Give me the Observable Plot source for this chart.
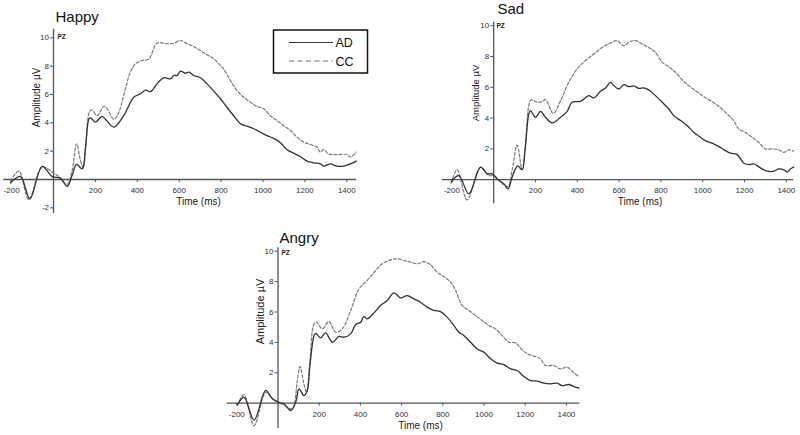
<!DOCTYPE html>
<html><head><meta charset="utf-8">
<script src="https://cdn.jsdelivr.net/npm/d3@7"></script>
<script src="https://cdn.jsdelivr.net/npm/@observablehq/plot@0.6"></script>
<style>
body{margin:0;background:#fff;}
#chart{position:relative;width:800px;height:435px;overflow:hidden;font-family:"Liberation Sans",Arial,sans-serif;}
#chart svg{position:absolute;left:0;top:0;}
</style></head><body><div id="chart"></div>
<script>
// ---------- data (time in ms, amplitude in µV) ----------
const seriesNames = ["AD", "CC"];
const xTickValues = [-200, 200, 400, 600, 800, 1000, 1200, 1400];
const yTicksHappy = [-2, 2, 4, 6, 8, 10];
const yTicksOther = [2, 4, 6, 8, 10];

const happyAD_t = [-205,-197,-157,-113,-54,-6,33,65,89,110,137,153,169,177,200,232,253,288,335,383,415,439,463,494,526,558,574,590,606,630,646,669,701,733,765,797,828,860,892,924,956,987,1019,1051,1083,1115,1146,1178,1210,1242,1274,1290,1321,1353,1385,1417,1445];
const happyAD_v = [-0.25,-0.12,0.21,-1.36,0.93,0.2,0.1,-0.49,0.3,1.06,0.75,2.3,4.28,4.35,4.05,4.45,4.16,3.7,4.5,5.8,6.05,6.3,6.2,6.75,7.18,7.1,7.34,7.34,7.65,7.5,7.58,7.34,7.18,6.75,6.24,5.7,5.1,4.5,3.93,3.76,3.58,3.34,3.1,2.9,2.6,2.1,1.86,1.62,1.3,1.18,1.1,0.94,1.1,0.94,0.94,1.1,1.3];
const happyCC_t = [-205,-165,-118,-54,1,33,65,89,110,129,142,155,173,185,208,240,256,288,312,335,367,391,423,455,494,542,574,606,638,669,701,733,765,797,812,844,876,908,940,972,1003,1035,1067,1099,1131,1162,1194,1226,1258,1274,1290,1313,1353,1401,1417,1445];
const happyCC_v = [-0.1,0.59,-1.41,0.87,0.45,0.12,-0.35,0.64,2.52,1.34,0.83,2.5,4.82,4.9,4.5,5.15,5.0,4.25,4.75,5.93,7.58,8.16,8.4,8.5,9.62,9.58,9.62,9.81,9.58,9.39,9.1,8.8,8.52,8.05,7.8,7.0,6.28,5.8,5.46,5.15,5.0,4.5,4.16,3.8,3.46,3.0,2.64,2.47,2.28,1.93,2.12,1.8,1.76,1.76,1.58,1.93];

const sadAD_t = [-203,-167,-119,-63,-31,-7,17,49,68,88,104,115,136,150,168,176,200,224,248,280,320,351,375,415,455,479,511,535,559,575,599,622,646,670,694,718,742,774,806,838,862,894,926,957,989,1013,1045,1077,1109,1133,1165,1197,1228,1244,1276,1308,1340,1364,1388,1404,1420,1436];
const sadAD_v = [-0.16,0.27,-0.92,0.81,0.38,0.38,0.05,-0.27,-0.6,0.16,0.7,0.9,0.65,1.9,4.27,4.49,4.05,4.44,4.05,3.69,4.05,4.42,5.03,5.09,5.46,5.31,5.74,5.96,6.32,6.11,5.89,6.17,6.04,6.09,5.93,5.96,5.83,5.46,5.03,4.59,4.16,3.84,3.51,3.08,2.76,2.54,2.37,2.15,1.89,1.72,1.63,1.07,0.98,1.03,0.77,0.55,0.55,0.7,0.64,0.49,0.7,0.81];
const sadCC_t = [-203,-175,-127,-63,-23,1,33,68,88,112,136,150,168,179,208,232,248,285,320,359,399,439,479,519,559,591,622,646,678,710,742,774,806,838,870,902,933,965,997,1029,1061,1093,1125,1148,1172,1204,1236,1268,1300,1332,1364,1388,1412,1436];
const sadCC_v = [-0.23,0.64,-1.31,0.81,0.27,0.27,-0.16,-0.44,0.6,2.25,0.65,2.0,4.81,5.18,5.03,5.07,5.2,4.31,5.14,6.32,7.19,7.73,8.16,8.59,8.88,9.03,8.7,8.92,9.03,8.81,8.59,8.27,7.62,7.34,6.97,6.48,6.11,5.78,5.46,5.2,4.92,4.59,4.16,3.84,3.3,3.08,2.76,2.43,2.0,2.0,1.94,1.78,1.94,1.85];

const angryAD_t = [-197,-165,-116,-60,-27,0,29,61,86,102,126,142,155,175,183,207,231,264,296,320,353,377,401,417,433,466,498,530,563,595,627,660,692,724,757,789,821,854,878,902,935,967,999,1032,1064,1096,1129,1161,1193,1226,1258,1290,1323,1355,1379,1412,1444,1460];
const angryAD_v = [-0.11,0.39,-1.12,0.84,0.29,0.07,-0.04,-0.48,0.07,0.94,0.5,0.83,2.5,4.45,4.6,4.3,4.63,4.01,4.39,4.34,4.56,5.18,5.33,5.7,5.55,5.94,6.43,6.75,7.26,6.93,7.08,6.86,6.64,6.32,6.1,6.03,5.66,5.11,4.67,4.45,4.01,3.57,3.36,2.92,2.63,2.54,2.26,2.15,1.75,1.49,1.45,1.32,1.27,1.32,1.16,1.23,1.05,1.0];
const angryCC_t = [-197,-165,-116,-60,-27,13,45,70,94,107,126,139,155,175,188,215,247,280,312,353,393,433,474,506,547,579,611,644,676,708,741,773,805,838,862,894,927,959,991,1024,1056,1088,1121,1153,1185,1218,1250,1274,1298,1339,1371,1404,1433,1460];
const angryCC_v = [-0.15,0.55,-1.47,0.72,0.29,0,-0.26,-0.37,1.49,2.41,1.27,0.72,2.8,5.22,5.33,4.89,5.37,4.67,4.89,6.1,7.52,8.07,8.73,9.17,9.43,9.5,9.39,9.28,9.17,9.32,9.1,8.62,8.33,7.96,7.41,6.43,6.1,5.77,5.44,5.11,4.89,4.45,4.01,3.97,3.51,3.2,3.07,2.92,2.48,2.48,2.26,2.37,2.04,1.75];

// ---------- drawing ----------
const FONT = "'Liberation Sans', Arial, sans-serif";
const AXIS = "#555";
const AD_COLOR = "#333";
const CC_COLOR = "#7a7a7a";
const zip = (T, V) => T.map((t, i) => ({t, v: V[i]}));

function panel(c) {
  const ad = zip(c.adT, c.adV), cc = zip(c.ccT, c.ccV);
  const tickLenY = 3 / c.ky, tickLenX = 3 / c.kx;
  return Plot.plot({
    width: 800, height: 435, margin: 0,
    x: {type: "linear", domain: c.xDom, range: [c.x0 + c.xDom[0] * c.kx, c.x0 + c.xDom[1] * c.kx], axis: null},
    y: {type: "linear", domain: c.yDom, range: [c.y0 - c.yDom[0] * c.ky, c.y0 - c.yDom[1] * c.ky], axis: null},
    style: {background: "transparent", overflow: "visible", fontFamily: FONT},
    marks: [
      Plot.ruleY([0], {x1: c.xDom[0], x2: c.xDom[1], stroke: AXIS, strokeWidth: 1.3}),
      Plot.ruleX([0], {y1: c.yDom[0], y2: c.yDom[1], stroke: AXIS, strokeWidth: 1.3}),
      Plot.ruleX(xTickValues, {x: d => d, y1: 0, y2: -tickLenY, stroke: AXIS, strokeWidth: 1}),
      Plot.text(xTickValues, {x: d => d, y: 0, dy: 11, text: d => String(d), fontSize: 8, fill: "#333"}),
      Plot.ruleY(c.yTicks, {y: d => d, x1: 0, x2: -tickLenX, stroke: AXIS, strokeWidth: 1}),
      Plot.text(c.yTicks, {x: 0, y: d => d, dx: -4.5, textAnchor: "end", text: d => String(d), fontSize: 8, fill: "#333"}),
      Plot.line(cc, {x: "t", y: "v", curve: "catmull-rom", stroke: CC_COLOR, strokeWidth: 1.2, strokeDasharray: "3,2"}),
      Plot.line(ad, {x: "t", y: "v", curve: "catmull-rom", stroke: AD_COLOR, strokeWidth: 1.3}),
      Plot.text([c.title], {frameAnchor: "top-left", dx: c.titleX, dy: c.titleBase, text: d => d, textAnchor: "start", lineAnchor: "bottom", fontSize: 15, fill: "#111"}),
      Plot.text(["PZ"], {frameAnchor: "top-left", dx: c.pzX, dy: c.pzBase, text: d => d, textAnchor: "start", lineAnchor: "bottom", fontSize: 6.5, fontWeight: "bold", fill: "#222"}),
      Plot.text(["Amplitude µV"], {frameAnchor: "top-left", dx: c.ampX, dy: c.ampY, rotate: -90, text: d => d, textAnchor: "middle", lineAnchor: "middle", fontSize: c.ampSize, fill: "#222"}),
      Plot.text(["Time (ms)"], {frameAnchor: "top-left", dx: c.timeX, dy: c.timeBase, text: d => d, textAnchor: "middle", lineAnchor: "bottom", fontSize: 10, fill: "#222"})
    ]
  });
}

const chart = document.getElementById("chart");
chart.append(panel({
  title: "Happy", adT: happyAD_t, adV: happyAD_v, ccT: happyCC_t, ccV: happyCC_v,
  x0: 53, kx: 0.2095, y0: 179, ky: 14.17, xDom: [-237, 1447], yDom: [-2.4, 10.6], yTicks: yTicksHappy,
  titleX: 55, titleBase: 21.5, pzX: 57, pzBase: 38.5, ampX: 36, ampY: 97, ampSize: 10, timeX: 198, timeBase: 204.5
}));
chart.append(panel({
  title: "Sad", adT: sadAD_t, adV: sadAD_v, ccT: sadCC_t, ccV: sadCC_v,
  x0: 493.2, kx: 0.209, y0: 179.2, ky: 15.4, xDom: [-246, 1436], yDom: [-1.56, 10.23], yTicks: yTicksOther,
  titleX: 497, titleBase: 13.3, pzX: 496, pzBase: 27.5, ampX: 475, ampY: 92.5, ampSize: 9.5, timeX: 639.5, timeBase: 204
}));
chart.append(panel({
  title: "Angry", adT: angryAD_t, adV: angryAD_v, ccT: angryCC_t, ccV: angryCC_v,
  x0: 277.5, kx: 0.206, y0: 402.7, ky: 15.2, xDom: [-246, 1465], yDom: [-1.66, 10.22], yTicks: yTicksOther,
  titleX: 279, titleBase: 242.7, pzX: 281, pzBase: 254.5, ampX: 260, ampY: 311, ampSize: 11, timeX: 420, timeBase: 428
}));

// legend (boxed, top-left panel)
const leg = d3.select(chart).append("svg").attr("width", 800).attr("height", 435).style("pointer-events", "none");
leg.append("rect").attr("x", 273.5).attr("y", 30).attr("width", 94).attr("height", 43)
  .attr("fill", "none").attr("stroke", "#111").attr("stroke-width", 1.5);
seriesNames.forEach((name, i) => {
  const yy = 42.5 + i * 18.5;
  leg.append("line").attr("x1", 289).attr("x2", 333).attr("y1", yy).attr("y2", yy)
    .attr("stroke", i === 0 ? AD_COLOR : CC_COLOR).attr("stroke-width", 1.2)
    .attr("stroke-dasharray", i === 0 ? null : "5,3.5");
  leg.append("text").attr("x", 335.5).attr("y", yy + 4.5).text(name)
    .attr("font-family", FONT).attr("font-size", 12.5).attr("fill", "#111");
});
</script></body></html>
